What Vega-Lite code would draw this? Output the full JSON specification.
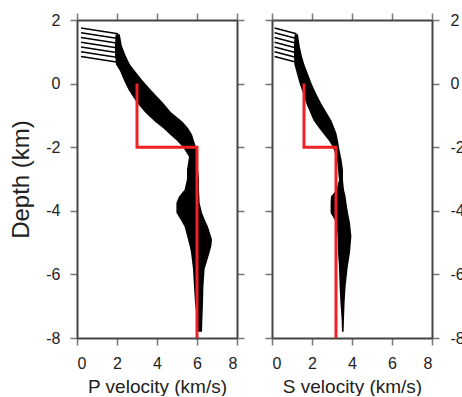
{
  "$schema": "https://vega.github.io/schema/vega-lite/v6.json",
  "padding": {"left": 9, "top": 12, "right": 0, "bottom": 0},
  "spacing": 35,
  "bounds": "flush",
  "datasets": {
    "bandP": [
      {"d": 1.55, "lo": 1.93, "hi": 2.14},
      {"d": 1.2, "lo": 1.9, "hi": 2.24},
      {"d": 0.9, "lo": 1.9, "hi": 2.42},
      {"d": 0.6, "lo": 1.95, "hi": 2.65},
      {"d": 0.4, "lo": 2.15, "hi": 2.9},
      {"d": 0.1, "lo": 2.35, "hi": 3.28},
      {"d": -0.2, "lo": 2.58, "hi": 3.7},
      {"d": -0.6, "lo": 3.0, "hi": 4.3},
      {"d": -0.9, "lo": 3.4, "hi": 4.7},
      {"d": -1.2, "lo": 3.9, "hi": 5.28},
      {"d": -1.4, "lo": 4.3, "hi": 5.55},
      {"d": -1.6, "lo": 4.65, "hi": 5.75},
      {"d": -1.8, "lo": 5.0, "hi": 5.85},
      {"d": -2.0, "lo": 5.3, "hi": 5.95},
      {"d": -2.3, "lo": 5.6, "hi": 6.02},
      {"d": -2.7, "lo": 5.5, "hi": 6.05},
      {"d": -3.0, "lo": 5.5, "hi": 6.1},
      {"d": -3.34, "lo": 5.38, "hi": 6.1},
      {"d": -3.55, "lo": 5.1, "hi": 6.12},
      {"d": -3.75, "lo": 4.97, "hi": 6.13},
      {"d": -4.06, "lo": 4.97, "hi": 6.25},
      {"d": -4.3, "lo": 5.2, "hi": 6.4},
      {"d": -4.5, "lo": 5.38, "hi": 6.55},
      {"d": -4.9, "lo": 5.55, "hi": 6.75},
      {"d": -5.1, "lo": 5.63, "hi": 6.72},
      {"d": -5.31, "lo": 5.7, "hi": 6.63},
      {"d": -5.84, "lo": 5.8, "hi": 6.38},
      {"d": -6.4, "lo": 5.85, "hi": 6.32},
      {"d": -6.9, "lo": 5.9, "hi": 6.3},
      {"d": -7.4, "lo": 6.0, "hi": 6.27},
      {"d": -7.8, "lo": 6.05, "hi": 6.25}
    ],
    "bandS": [
      {"d": 1.55, "lo": 1.13, "hi": 1.3},
      {"d": 1.2, "lo": 1.1, "hi": 1.38},
      {"d": 0.9, "lo": 1.1, "hi": 1.48},
      {"d": 0.6, "lo": 1.12, "hi": 1.62},
      {"d": 0.3, "lo": 1.25, "hi": 1.8},
      {"d": 0.0, "lo": 1.38, "hi": 1.98},
      {"d": -0.3, "lo": 1.55, "hi": 2.2},
      {"d": -0.63, "lo": 1.72, "hi": 2.47},
      {"d": -0.9, "lo": 1.9, "hi": 2.72},
      {"d": -1.16, "lo": 2.08, "hi": 2.97},
      {"d": -1.4, "lo": 2.35, "hi": 3.12},
      {"d": -1.56, "lo": 2.55, "hi": 3.22},
      {"d": -1.8, "lo": 2.85, "hi": 3.3},
      {"d": -2.0, "lo": 3.05, "hi": 3.35},
      {"d": -2.4, "lo": 3.25, "hi": 3.48},
      {"d": -2.72, "lo": 3.3, "hi": 3.55},
      {"d": -3.03, "lo": 3.35, "hi": 3.55},
      {"d": -3.34, "lo": 3.22, "hi": 3.6},
      {"d": -3.55, "lo": 2.95, "hi": 3.68},
      {"d": -3.75, "lo": 2.93, "hi": 3.72},
      {"d": -4.06, "lo": 2.93, "hi": 3.8},
      {"d": -4.38, "lo": 3.22, "hi": 3.9},
      {"d": -4.8, "lo": 3.28, "hi": 3.97},
      {"d": -5.31, "lo": 3.3, "hi": 3.9},
      {"d": -5.8, "lo": 3.35, "hi": 3.78},
      {"d": -6.38, "lo": 3.38, "hi": 3.68},
      {"d": -6.88, "lo": 3.42, "hi": 3.63},
      {"d": -7.4, "lo": 3.48, "hi": 3.6},
      {"d": -7.8, "lo": 3.5, "hi": 3.58}
    ],
    "hatchP": [
      {"id": 1, "v": 0.2, "d": 1.75}, {"id": 1, "v": 2.05, "d": 1.57},
      {"id": 2, "v": 0.2, "d": 1.6}, {"id": 2, "v": 2.05, "d": 1.42},
      {"id": 3, "v": 0.2, "d": 1.45}, {"id": 3, "v": 2.05, "d": 1.27},
      {"id": 4, "v": 0.2, "d": 1.3}, {"id": 4, "v": 2.05, "d": 1.12},
      {"id": 5, "v": 0.2, "d": 1.15}, {"id": 5, "v": 2.05, "d": 0.97},
      {"id": 6, "v": 0.2, "d": 1.0}, {"id": 6, "v": 2.05, "d": 0.82},
      {"id": 7, "v": 0.2, "d": 0.85}, {"id": 7, "v": 2.05, "d": 0.67}
    ],
    "hatchS": [
      {"id": 1, "v": 0.13, "d": 1.75}, {"id": 1, "v": 1.22, "d": 1.57},
      {"id": 2, "v": 0.13, "d": 1.6}, {"id": 2, "v": 1.22, "d": 1.42},
      {"id": 3, "v": 0.13, "d": 1.45}, {"id": 3, "v": 1.22, "d": 1.27},
      {"id": 4, "v": 0.13, "d": 1.3}, {"id": 4, "v": 1.22, "d": 1.12},
      {"id": 5, "v": 0.13, "d": 1.15}, {"id": 5, "v": 1.22, "d": 0.97},
      {"id": 6, "v": 0.13, "d": 1.0}, {"id": 6, "v": 1.22, "d": 0.82},
      {"id": 7, "v": 0.13, "d": 0.85}, {"id": 7, "v": 1.22, "d": 0.67}
    ],
    "redP": [
      {"seq": 1, "v": 3, "d": 0}, {"seq": 2, "v": 3, "d": -2},
      {"seq": 3, "v": 6, "d": -2}, {"seq": 4, "v": 6, "d": -8}
    ],
    "redS": [
      {"seq": 1, "v": 1.6, "d": 0}, {"seq": 2, "v": 1.6, "d": -2},
      {"seq": 3, "v": 3.2, "d": -2}, {"seq": 4, "v": 3.2, "d": -8}
    ]
  },
  "config": {
    "font": "Liberation Sans",
    "view": {"stroke": null},
    "axis": {
      "grid": false,
      "domainColor": "#444444",
      "domainWidth": 2,
      "tickColor": "#777777",
      "tickWidth": 1.5,
      "tickSize": 7,
      "labelFontSize": 16,
      "labelColor": "#222222",
      "labelPadding": 10,
      "titleFontSize": 19,
      "titleFontWeight": "normal",
      "titleColor": "#222222",
      "labelExpr": "'' + datum.value"
    },
    "axisX": {"labelPadding": 10}
  },
  "hconcat": [
    {
      "width": 160,
      "height": 318,
      "layer": [
        {
          "data": {"name": "bandP"},
          "mark": {"type": "area", "orient": "horizontal", "color": "black"},
          "encoding": {
            "y": {"field": "d", "type": "quantitative", "scale": {"domain": [-8, 2], "nice": false},
                  "axis": {"orient": "left", "values": [-8, -6, -4, -2, 0, 2], "title": "Depth (km)", "titleFontSize": 24, "titlePadding": 12}},
            "x": {"field": "lo", "type": "quantitative", "scale": {"domain": [0, 8], "nice": false},
                  "axis": {"orient": "bottom", "values": [0, 2, 4, 6, 8], "title": "P velocity (km/s)", "titlePadding": 6}},
            "x2": {"field": "hi"}
          }
        },
        {
          "data": {"name": "hatchP"},
          "mark": {"type": "line", "color": "black", "strokeWidth": 1.5},
          "encoding": {
            "x": {"field": "v", "type": "quantitative", "axis": null},
            "y": {"field": "d", "type": "quantitative", "axis": null},
            "detail": {"field": "id"}
          }
        },
        {
          "data": {"name": "redP"},
          "mark": {"type": "line", "color": "#ee2222", "strokeWidth": 3},
          "encoding": {
            "x": {"field": "v", "type": "quantitative", "axis": {"orient": "top", "values": [0, 2, 4, 6, 8], "labels": false, "title": null}},
            "y": {"field": "d", "type": "quantitative", "axis": {"orient": "right", "values": [-8, -6, -4, -2, 0, 2], "labels": false, "title": null}},
            "order": {"field": "seq"}
          }
        }
      ],
      "resolve": {"axis": {"x": "independent", "y": "independent"}}
    },
    {
      "width": 160,
      "height": 318,
      "layer": [
        {
          "data": {"name": "bandS"},
          "mark": {"type": "area", "orient": "horizontal", "color": "black"},
          "encoding": {
            "y": {"field": "d", "type": "quantitative", "scale": {"domain": [-8, 2], "nice": false},
                  "axis": {"orient": "right", "values": [-8, -6, -4, -2, 0, 2], "title": null, "labelPadding": 11}},
            "x": {"field": "lo", "type": "quantitative", "scale": {"domain": [0, 8], "nice": false},
                  "axis": {"orient": "bottom", "values": [0, 2, 4, 6, 8], "title": "S velocity (km/s)", "titlePadding": 6}},
            "x2": {"field": "hi"}
          }
        },
        {
          "data": {"name": "hatchS"},
          "mark": {"type": "line", "color": "black", "strokeWidth": 1.5},
          "encoding": {
            "x": {"field": "v", "type": "quantitative", "axis": null},
            "y": {"field": "d", "type": "quantitative", "axis": null},
            "detail": {"field": "id"}
          }
        },
        {
          "data": {"name": "redS"},
          "mark": {"type": "line", "color": "#ee2222", "strokeWidth": 3},
          "encoding": {
            "x": {"field": "v", "type": "quantitative", "axis": {"orient": "top", "values": [0, 2, 4, 6, 8], "labels": false, "title": null}},
            "y": {"field": "d", "type": "quantitative", "axis": {"orient": "left", "values": [-8, -6, -4, -2, 0, 2], "labels": false, "title": null}},
            "order": {"field": "seq"}
          }
        }
      ],
      "resolve": {"axis": {"x": "independent", "y": "independent"}}
    }
  ]
}
